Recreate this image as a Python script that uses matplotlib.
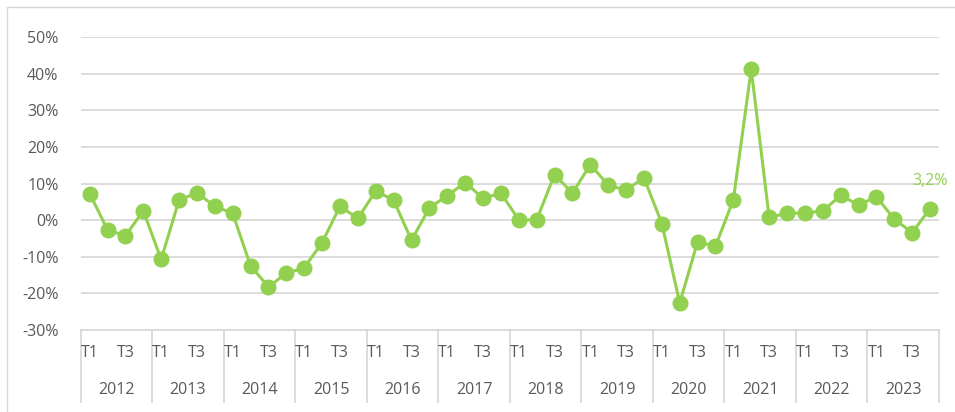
import matplotlib.pyplot as plt
import matplotlib.transforms as mtransforms
import numpy as np

plt.rcParams['font.family'] = ['Open Sans', 'DejaVu Sans']

# Datos: variacion interanual trimestral (%)
anios = [2012, 2013, 2014, 2015, 2016, 2017, 2018, 2019, 2020, 2021, 2022, 2023]
trimestres = ['T1', 'T2', 'T3', 'T4']
variacion = [
    7.3, -2.6, -4.3, 2.6,      # 2012
    -10.7, 5.5, 7.5, 3.8,      # 2013
    1.9, -12.5, -18.2, -14.5,  # 2014
    -13.0, -6.1, 3.8, 0.5,     # 2015
    8.0, 5.5, -5.5, 3.4,       # 2016
    6.7, 10.3, 6.0, 7.4,       # 2017
    0.1, 0.1, 12.5, 7.4,       # 2018
    15.2, 9.6, 8.2, 11.6,      # 2019
    -0.9, -22.6, -5.9, -7.1,   # 2020
    5.6, 41.3, 0.8, 1.9,       # 2021
    2.0, 2.5, 6.8, 4.2,        # 2022
    6.4, 0.3, -3.4, 3.2,       # 2023
]
etiqueta_final = '3,2%'
ticks_y = [-30, -20, -10, 0, 10, 20, 30, 40, 50]

VERDE = '#92D050'
GRIS = '#D9D9D9'
TEXTO = '#595959'
TAM = 11.5

fig = plt.figure(figsize=(9.55, 4.12), dpi=100)

# marco exterior del grafico
fig.add_artist(plt.Rectangle((7 / 955, -0.1), 1.2, 1 - 7 / 412 + 0.1,
                             transform=fig.transFigure, fill=False,
                             edgecolor=GRIS, lw=1))

ax = fig.add_axes([80.7 / 955, 1 - 330 / 412, (939 - 80.7) / 955, (330 - 37.3) / 412])

x = np.arange(len(variacion))
ax.plot(x, variacion, '-o', color=VERDE, lw=2.2, markersize=10.5, zorder=3)

ax.set_xlim(-0.5, len(variacion) - 0.5)
ax.set_ylim(ticks_y[0], ticks_y[-1])
ax.set_yticks(ticks_y)
ax.set_yticklabels([f'{v}%' for v in ticks_y])
ax.tick_params(axis='y', length=0, pad=16, labelsize=TAM, labelcolor=TEXTO)
ax.set_xticks([])

for v in ticks_y[1:]:
    ax.axhline(v, color=GRIS, lw=1.3, zorder=1)

for lado in ['top', 'right', 'left']:
    ax.spines[lado].set_visible(False)
ax.spines['bottom'].set_color(GRIS)
ax.spines['bottom'].set_linewidth(1.3)

# eje de categorias en dos niveles (trimestre / anio)
trans = mtransforms.blended_transform_factory(ax.transData, ax.transAxes)
for i in range(len(variacion)):
    q = i % 4
    if q in (0, 2):
        ax.text(i, -0.079, trimestres[q], transform=trans, ha='center',
                va='center', fontsize=TAM, color=TEXTO)

for k, anio in enumerate(anios):
    ax.text(4 * k + 1.5, -0.205, str(anio), transform=trans, ha='center',
            va='center', fontsize=TAM, color=TEXTO)

for k in range(len(anios) + 1):
    ax.plot([4 * k - 0.5] * 2, [0, -0.246], transform=trans, color=GRIS,
            lw=1.3, clip_on=False)

# etiqueta del ultimo dato
ax.annotate(etiqueta_final, (x[-1], variacion[-1]), xytext=(0, 20),
            textcoords='offset points', ha='center', va='center',
            fontsize=TAM, color=VERDE)

fig.savefig('out.png', dpi=100)
